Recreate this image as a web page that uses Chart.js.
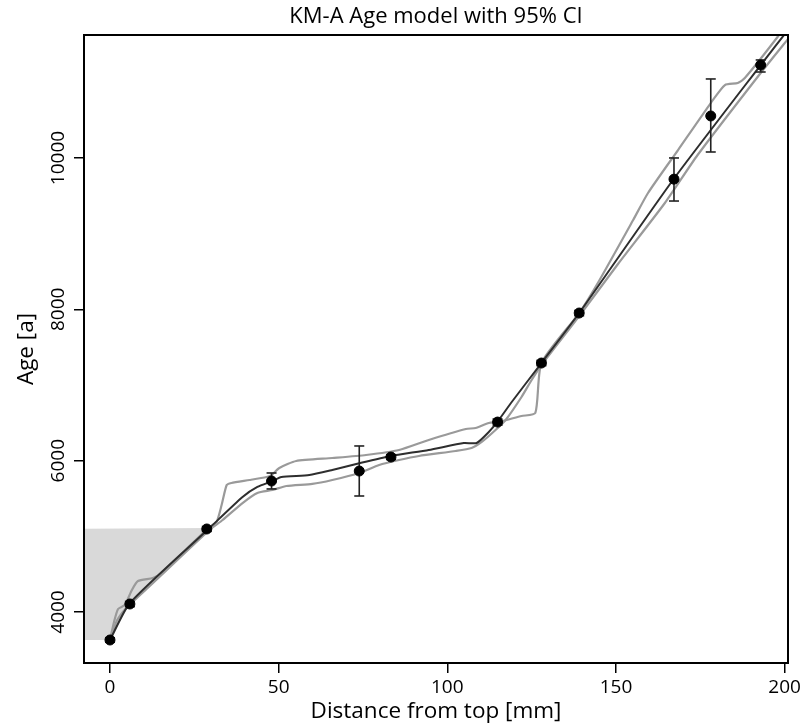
<!DOCTYPE html>
<html>
<head>
<meta charset="utf-8">
<script src="https://cdn.jsdelivr.net/npm/chart.js@4.4.1/dist/chart.umd.min.js"></script>
<style>
  html, body { margin: 0; padding: 0; background: #fff; }
  #wrap { width: 804px; height: 725px; }
</style>
</head>
<body>
<div id="wrap"><canvas id="c" width="804" height="725"></canvas></div>
<script>
// axis limits and ticks
const xMin = -7.7, xMax = 201
const yMin = 3326, yMax = 11625
const xTicks = [0, 50, 100, 150, 200]
const yTicks = [4000, 6000, 8000, 10000]

// dated samples (depth in mm, age in a) with error bars
const obsX  = [0, 5.9, 28.7, 47.9, 73.9, 83.3, 114.9, 127.9, 139.1, 167.2, 178.1, 192.9]
const obsY  = [3630, 4106, 5097, 5731, 5863, 6048, 6510, 7290, 7951, 9720, 10555, 11228]
const errLo = [3600, 4070, 5065, 5626, 5533, 6015, 6470, 7255, 7915, 9431, 10079, 11136]
const errHi = [3660, 4140, 5130, 5837, 6194, 6080, 6550, 7325, 7985, 10000, 11044, 11295]

// age model (median)
const meanX = [0, 5.9, 29.5, 39.3, 43.7, 48.2, 50.8, 59.1, 65.9, 74.2, 83.3, 94.5, 104.9, 108.7, 112.3, 114.6, 119.1, 127.9, 139.1, 166.9, 192.9, 201.5]
const meanY = [3630, 4119, 5110, 5520, 5652, 5731, 5784, 5810, 5877, 5969, 6062, 6141, 6233, 6233, 6379, 6498, 6775, 7290, 7951, 9709, 11228, 11720]

// upper 95% bound
const upX = [0, 1.2, 2.4, 4.4, 6.5, 8.3, 12.7, 14.8, 29.5, 31.6, 33.1, 34.6, 36.0, 41.4, 46.4, 47.9, 50.2, 55.2, 65.9, 75.9, 85.7, 94.5, 105.5, 108.4, 112.3, 115.2, 122.0, 126.1, 127.9, 139.1, 144.8, 155.1, 159.5, 168.4, 178.1, 182.3, 186.1, 188.2, 197.9, 201.5]
const upY = [3630, 3868, 4040, 4093, 4291, 4410, 4449, 4502, 5123, 5189, 5414, 5678, 5705, 5744, 5784, 5810, 5903, 5996, 6035, 6075, 6141, 6273, 6418, 6432, 6498, 6511, 6590, 6630, 7290, 7951, 8361, 9180, 9537, 10105, 10726, 10964, 10991, 11057, 11599, 11830]

// lower 95% bound
const loX = [0, 2.0, 4.0, 5.9, 11.8, 29.5, 33.4, 39.3, 43.7, 48.2, 52.3, 60.0, 65.9, 73.9, 79.8, 85.7, 91.6, 102.5, 107.2, 110.2, 114.3, 117.3, 122.0, 125.0, 127.9, 139.1, 150.6, 164.5, 174.2, 192.9, 201.5]
const loY = [3630, 3880, 4010, 4100, 4344, 5084, 5216, 5440, 5573, 5612, 5665, 5692, 5744, 5837, 5943, 6009, 6062, 6128, 6167, 6247, 6405, 6537, 6841, 7066, 7264, 7912, 8599, 9405, 10039, 11123, 11600]

// shaded block: top of core down to first date
const shadeTop = 5100
const shadeBottom = 3630

const FONT = '"Open Sans", "DejaVu Sans", sans-serif'
const zip = (xs, ys) => xs.map((x, i) => ({x: x, y: ys[i]}))

// shaded polygon follows the age model up to the shadeTop level
let shade = [{x: xMin, y: shadeBottom}]
for (let i = 0; i < meanX.length && meanY[i] <= shadeTop + 20; i++) {
    shade.push({x: meanX[i], y: meanY[i]})
}
shade.push({x: xMin, y: shadeTop})

// vertical whiskers, broken with nulls
let whiskers = []
let caps = []
obsX.forEach((x, i) => {
    whiskers.push({x: x, y: errLo[i]}, {x: x, y: errHi[i]}, {x: x, y: null})
    caps.push({x: x, y: errLo[i]}, {x: x, y: errHi[i]})
})

// measure widest y label so the rotated labels sit centred 25px from the axis
const TICK_SIZE = 19
const mctx = document.createElement('canvas').getContext('2d')
mctx.font = TICK_SIZE + 'px ' + FONT
const widestY = Math.max(...yTicks.map(v => mctx.measureText(String(v)).width))
const TICK_LEN = 10
const yLabelPad = 25 - TICK_LEN - widestY / 2

const boxPlugin = {
    id: 'box',
    afterDraw(chart) {
        const a = chart.chartArea
        const ctx = chart.ctx
        ctx.save()
        ctx.strokeStyle = '#000'
        ctx.lineWidth = 2
        ctx.strokeRect(a.left, a.top, a.right - a.left, a.bottom - a.top)
        ctx.restore()
    }
}

const config = {
    type: 'scatter',
    data: {
        datasets: [
            {
                label: 'points',
                data: zip(obsX, obsY),
                backgroundColor: '#000',
                borderColor: '#000',
                pointRadius: 5,
                pointHoverRadius: 5,
                showLine: false,
                order: 1
            },
            {
                label: 'caps',
                data: caps,
                pointStyle: 'line',
                pointRadius: 5,
                pointBorderWidth: 1.6,
                borderColor: '#222',
                showLine: false,
                order: 2
            },
            {
                label: 'whiskers',
                data: whiskers,
                showLine: true,
                spanGaps: false,
                borderColor: '#222',
                borderWidth: 1.6,
                pointRadius: 0,
                order: 2
            },
            {
                label: 'median',
                data: zip(meanX, meanY),
                showLine: true,
                borderColor: '#2e2e2e',
                borderWidth: 2,
                pointRadius: 0,
                tension: 0.2,
                clip: 0,
                order: 3
            },
            {
                label: 'upper',
                data: zip(upX, upY),
                showLine: true,
                borderColor: '#9a9a9a',
                borderWidth: 2.2,
                pointRadius: 0,
                tension: 0.2,
                clip: 0,
                order: 4
            },
            {
                label: 'lower',
                data: zip(loX, loY),
                showLine: true,
                borderColor: '#9a9a9a',
                borderWidth: 2.2,
                pointRadius: 0,
                tension: 0.2,
                clip: 0,
                order: 4
            },
            {
                label: 'shade',
                data: shade,
                showLine: true,
                borderWidth: 0,
                borderColor: 'rgba(0,0,0,0)',
                backgroundColor: '#d9d9d9',
                fill: 'shape',
                pointRadius: 0,
                order: 5
            }
        ]
    },
    options: {
        responsive: false,
        animation: false,
        events: [],
        layout: {padding: {left: 0, right: 14, top: 0, bottom: 0}},
        plugins: {
            legend: {display: false},
            tooltip: {enabled: false},
            title: {
                display: true,
                text: 'KM-A Age model with 95% CI',
                color: '#000',
                fullSize: false,
                font: {family: FONT, size: 22, weight: 'normal'},
                padding: {top: 4, bottom: 4.6}
            }
        },
        scales: {
            x: {
                type: 'linear',
                min: xMin,
                max: xMax,
                afterBuildTicks: s => { s.ticks = xTicks.map(v => ({value: v})) },
                afterFit: s => { s.height = 62 },
                grid: {display: true, drawOnChartArea: false, drawTicks: true, tickLength: TICK_LEN, color: '#000', lineWidth: 1.5},
                border: {display: true, color: '#000', width: 2},
                ticks: {color: '#000', font: {family: FONT, size: TICK_SIZE}, padding: 3, maxRotation: 0, callback: v => String(v)},
                title: {display: true, text: 'Distance from top [mm]', color: '#000', font: {family: FONT, size: 22.5}, padding: {top: 0, bottom: 0}}
            },
            y: {
                type: 'linear',
                min: yMin,
                max: yMax,
                afterBuildTicks: s => { s.ticks = yTicks.map(v => ({value: v})) },
                afterFit: s => { s.width = 84 },
                grid: {display: true, drawOnChartArea: false, drawTicks: true, tickLength: TICK_LEN, color: '#000', lineWidth: 1.5},
                border: {display: true, color: '#000', width: 2},
                ticks: {color: '#000', font: {family: FONT, size: TICK_SIZE}, minRotation: 90, maxRotation: 90, crossAlign: 'center', padding: yLabelPad, callback: v => String(v)},
                title: {display: true, text: 'Age [a]', color: '#000', font: {family: FONT, size: 22.5}, padding: {top: 13, bottom: 0}}
            }
        }
    },
    plugins: [boxPlugin]
}

new Chart(document.getElementById('c'), config)
</script>
</body>
</html>
